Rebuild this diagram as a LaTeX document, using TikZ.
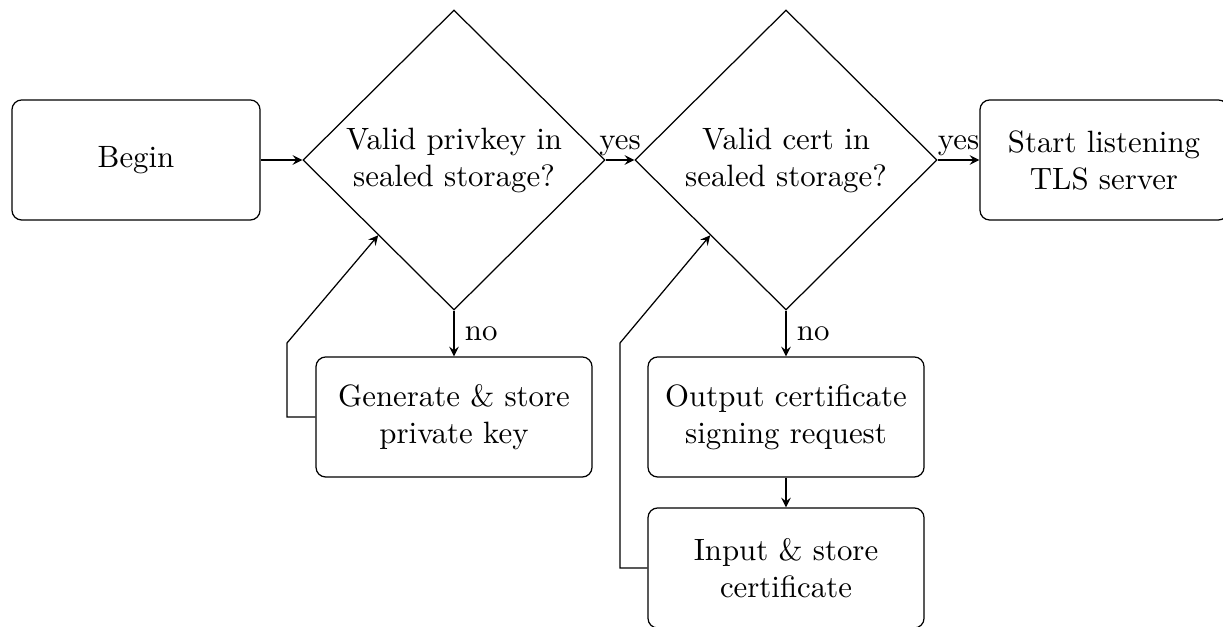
\documentclass[tikz,border=0pt]{standalone}
\usetikzlibrary{shapes.geometric,calc}
\begin{document}
\begin{tikzpicture}[x=0.0114cm,y=-0.0114cm,>=stealth,
  box/.style={draw, rounded corners=0.11cm, align=center,
    minimum width=3.146cm, minimum height=1.368cm, inner sep=2pt},
  endbox/.style={box, minimum width=2.827cm, minimum height=1.368cm},
  decision/.style={draw, diamond, aspect=1, align=center, inner sep=0pt,
    minimum width=3.443cm, minimum height=3.42cm},
  flow/.style={->}]
\useasboundingbox (0,0) rectangle (1223,627);

% nodes
\node[endbox] (begin) at (136,160) {Begin};
\node[decision] (key) at (454,160) {Valid privkey in\\sealed storage?};
\node[decision] (cert) at (786,160) {Valid cert in\\sealed storage?};
\node[endbox] (start) at (1104,160) {Start listening\\TLS server};
\node[box] (gen) at (454,417) {Generate \& store\\private key};
\node[box] (csr) at (786,417) {Output certificate\\signing request};
\node[box] (inp) at (786,568) {Input \& store\\certificate};

% return points on the lower-left edges of the decisions
\coordinate (keyin) at ($(key.west)!0.5!(key.south)$);
\coordinate (certin) at ($(cert.west)!0.5!(cert.south)$);
\coordinate (genbend) at (287,343);
\coordinate (inpbend) at (620,343);

% connectors
\draw[flow] (begin.east) -- (key.west);
\draw[flow] (key.east) -- node[above, inner sep=1pt] {yes} (cert.west);
\draw[flow] (cert.east) -- node[above, inner sep=1pt] {yes} (start.west);
\draw[flow] (key.south) -- node[right] {no} (gen.north);
\draw[flow] (cert.south) -- node[right] {no} (csr.north);
\draw[flow] (csr.south) -- (inp.north);
\draw[flow] (gen.west) -| (genbend) -- (keyin);
\draw[flow] (inp.west) -| (inpbend) -- (certin);
\end{tikzpicture}
\end{document}
